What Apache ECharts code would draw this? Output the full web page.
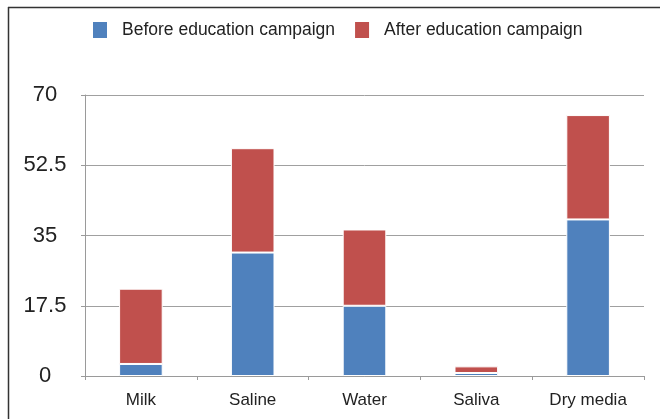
<!DOCTYPE html>
<html>
<head>
<meta charset="utf-8">
<script src="https://cdn.jsdelivr.net/npm/echarts@6/dist/echarts.min.js"></script>
<style>html,body{margin:0;padding:0;background:#fff}#c{width:660px;height:419px}</style>
</head>
<body>
<div id="c"></div>
<script>
var categories = ['Milk', 'Saline', 'Water', 'Saliva', 'Dry media'];
var beforeValues = [3, 30.75, 17.5, 0.75, 39];
var afterValues = [18.75, 26, 19, 1.65, 26];
var yTicks = [0, 17.5, 35, 52.5, 70];

var chart = echarts.init(document.getElementById('c'), null, {renderer: 'canvas'});
var font = '"Liberation Sans", Arial, Helvetica, sans-serif';
chart.setOption({
  animation: false,
  backgroundColor: '#fff',
  textStyle: {fontFamily: font},
  graphic: [
    {type: 'line', shape: {x1: 8, y1: 7.5, x2: 660, y2: 7.5}, style: {stroke: '#333', lineWidth: 1.5}},
    {type: 'line', shape: {x1: 8.5, y1: 7, x2: 8.5, y2: 419}, style: {stroke: '#333', lineWidth: 1.5}}
  ],
  legend: {
    top: 15,
    left: 86,
    itemWidth: 16,
    itemHeight: 18,
    itemGap: 18,
    icon: 'rect',
    textStyle: {fontSize: 17.5, color: '#222', fontFamily: font, padding: [0, 0, 0, 9]},
    data: ['Before education campaign', 'After education campaign']
  },
  grid: {left: 85, right: 16, top: 95, bottom: 43, containLabel: false},
  xAxis: {
    type: 'category',
    data: categories,
    boundaryGap: true,
    axisLine: {show: true, lineStyle: {color: '#9a9a9a', width: 1}},
    axisTick: {show: true, length: 4, lineStyle: {color: '#9a9a9a'}},
    axisLabel: {fontSize: 17, color: '#222', margin: 16, fontFamily: font}
  },
  yAxis: {
    type: 'value',
    min: 0,
    max: 70,
    interval: 17.5,
    axisLine: {show: true, lineStyle: {color: '#9a9a9a', width: 1}},
    axisTick: {show: true, length: 4, lineStyle: {color: '#9a9a9a'}},
    splitLine: {show: true, lineStyle: {color: '#a0a0a0', width: 1}},
    axisLabel: {
      fontSize: 22, color: '#222', fontFamily: font, align: 'center', margin: 40,
      formatter: function (v) { return yTicks.indexOf(v) >= 0 ? String(v) : ''; }
    }
  },
  series: [
    {
      name: 'Before education campaign', type: 'bar', stack: 'total', data: beforeValues,
      barWidth: '39%',
      itemStyle: {color: '#4F81BD', borderColor: '#ffffff', borderWidth: 1}
    },
    {
      name: 'After education campaign', type: 'bar', stack: 'total', data: afterValues,
      barWidth: '39%',
      itemStyle: {color: '#C0504D', borderColor: '#ffffff', borderWidth: 1}
    }
  ]
});
</script>
</body>
</html>
